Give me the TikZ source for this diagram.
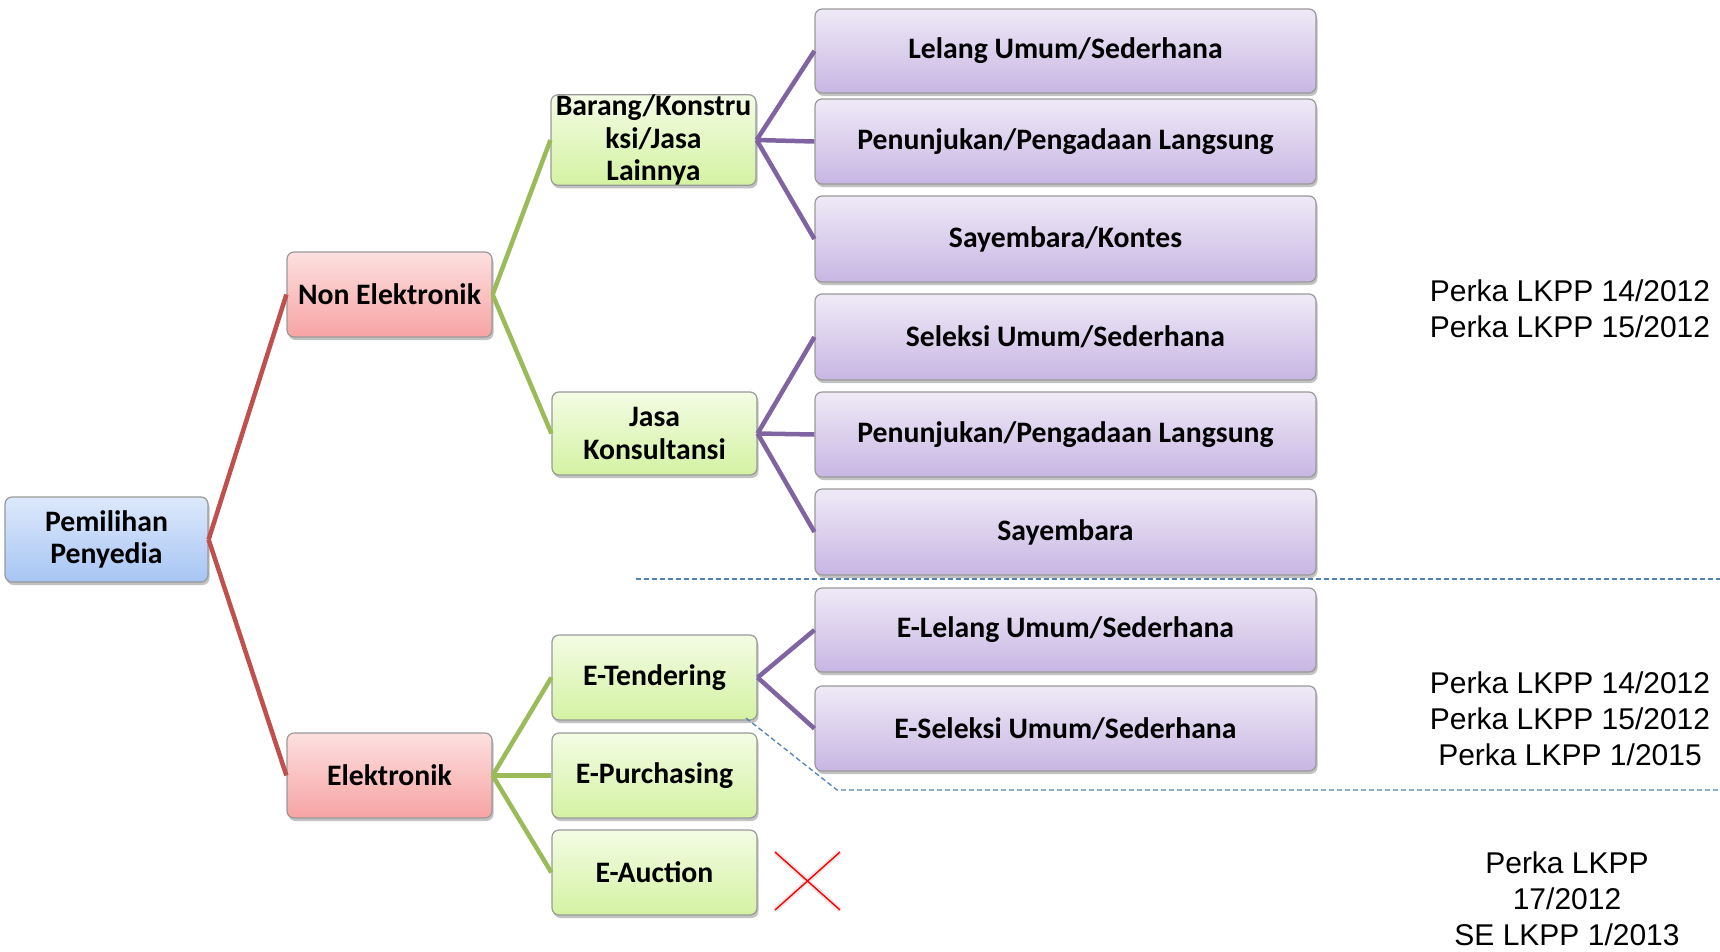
\documentclass[tikz,border=0pt]{standalone}
\usepackage{fontspec}
\setmainfont{Carlito}
\newfontfamily\refsfont{Liberation Sans}
\usetikzlibrary{shadows}
\definecolor{blueT}{HTML}{DDE9FB}\definecolor{blueB}{HTML}{A7C5F4}
\definecolor{redT}{HTML}{FDE0E0}\definecolor{redB}{HTML}{F7A3A3}
\definecolor{greenT}{HTML}{F3FCE4}\definecolor{greenB}{HTML}{D4F2A2}
\definecolor{purpT}{HTML}{EFEAF7}\definecolor{purpB}{HTML}{C8B6E3}
\definecolor{lnRed}{HTML}{C0504D}\definecolor{lnGreen}{HTML}{9BBB59}
\definecolor{lnPurple}{HTML}{8064A2}\definecolor{lnBlue}{HTML}{4F81BD}
\begin{document}
\begin{tikzpicture}[x=1pt,y=-1pt,
  base/.style={draw=black!40, line width=1.2pt, rounded corners=7pt, inner sep=0pt,
    font=\bfseries\fontsize{29.7}{32.5}\selectfont, align=center,
    drop shadow={shadow xshift=1.5pt, shadow yshift=-3pt, opacity=0.4, fill=black!60}},
  rootbox/.style={base, top color=blueT, bottom color=blueB, minimum width=203, minimum height=85},
  catbox/.style={base, top color=redT, bottom color=redB, minimum width=205, minimum height=85},
  subbox/.style={base, top color=greenT, bottom color=greenB, minimum width=205, minimum height=85},
  leafbox/.style={base, top color=purpT, bottom color=purpB, minimum width=501, minimum height=85},
  redline/.style={draw=lnRed, line width=4.5pt},
  greenline/.style={draw=lnGreen, line width=4.5pt},
  purpline/.style={draw=lnPurple, line width=4.5pt},
  sepline/.style={draw=lnBlue, line width=1.3pt, dash pattern=on 5pt off 3pt},
  refs/.style={font=\refsfont\fontsize{30}{36}\selectfont, align=center, inner sep=0pt}]
\useasboundingbox (0,0) rectangle (1720,951);

% tree nodes
\node[rootbox] (root) at (106.5,539.5) {Pemilihan\\Penyedia};
\node[catbox] (ne) at (389.5,294.5) {Non Elektronik};
\node[catbox] (el) at (389.5,775.5) {Elektronik};
\node[subbox, minimum height=86] (bk) at (653.5,140) {Barang/Konstru\\ksi/Jasa\\Lainnya};
\node[subbox, minimum height=83] (jk) at (654.5,433.5) {Jasa\\Konsultansi};
\node[subbox] (et) at (654.5,677.5) {E-Tendering};
\node[subbox] (ep) at (654.5,775.5) {E-Purchasing};
\node[subbox] (ea) at (654.5,872.5) {E-Auction};

\node[leafbox, minimum height=84] (l1) at (1065.5,51) {Lelang Umum/Sederhana};
\node[leafbox] (l2) at (1065.5,141.5) {Penunjukan/Pengadaan Langsung};
\node[leafbox, minimum height=86] (l3) at (1065.5,239) {Sayembara/Kontes};
\node[leafbox, minimum height=86] (l4) at (1065.5,337) {Seleksi Umum/Sederhana};
\node[leafbox] (l5) at (1065.5,434.5) {Penunjukan/Pengadaan Langsung};
\node[leafbox, minimum height=86] (l6) at (1065.5,532) {Sayembara};
\node[leafbox, minimum height=84] (l7) at (1065.5,630) {E-Lelang Umum/Sederhana};
\node[leafbox] (l8) at (1065.5,728.5) {E-Seleksi Umum/Sederhana};

% connectors
\draw[redline] (root.east) -- (ne.west);
\draw[redline] (root.east) -- (el.west);
\draw[greenline] (ne.east) -- (bk.west);
\draw[greenline] (ne.east) -- (jk.west);
\draw[greenline] (el.east) -- (et.west);
\draw[greenline] (el.east) -- (ep.west);
\draw[greenline] (el.east) -- (ea.west);
\foreach \t in {l1,l2,l3} \draw[purpline] (bk.east) -- (\t.west);
\foreach \t in {l4,l5,l6} \draw[purpline] (jk.east) -- (\t.west);
\foreach \t in {l7,l8} \draw[purpline] (et.east) -- (\t.west);

% separators between regulation groups
\coordinate (s1a) at (636,579);
\coordinate (s1b) at (1720,579);
\coordinate (s2a) at (746,718);
\coordinate (s2b) at (837,790);
\coordinate (s2c) at (1720,790);
\draw[sepline] (s1a) -- (s1b);
\draw[sepline] (s2a) -- (s2b) -- (s2c);

% cross beside E-Auction
\coordinate (xa) at (775,852);
\coordinate (xb) at (840,910);
\coordinate (xc) at (775,910);
\coordinate (xd) at (840,852);
\begin{scope}[shift={(2,3)}]
  \draw[black!40, line width=5pt, opacity=0.25] (xa) -- (xb) (xc) -- (xd);
\end{scope}
\draw[red, line width=1.4pt] (xa) -- (xb) (xc) -- (xd);

% regulation references
\node[refs] (r1) at (1570,308.5) {Perka LKPP 14/2012\\Perka LKPP 15/2012};
\node[refs] (r2) at (1570,719) {Perka LKPP 14/2012\\Perka LKPP 15/2012\\Perka LKPP 1/2015};
\node[refs] (r3) at (1567,899) {Perka LKPP\\17/2012\\SE LKPP 1/2013};
\end{tikzpicture}
\end{document}
